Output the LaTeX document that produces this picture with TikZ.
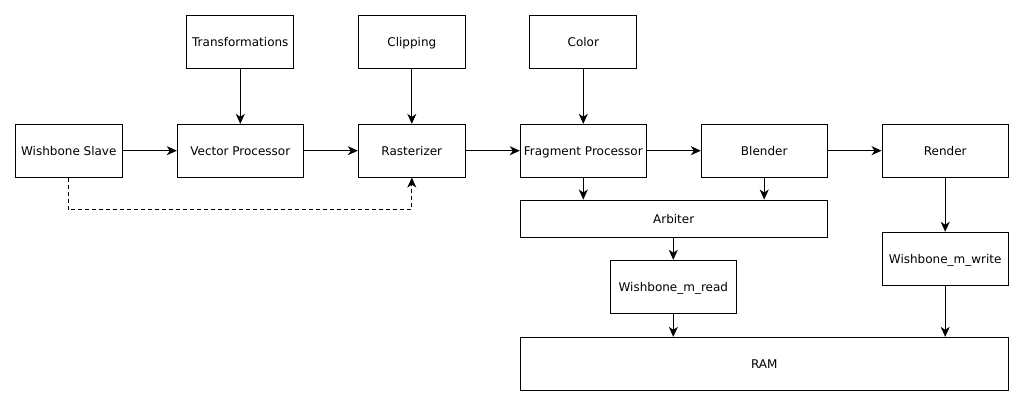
\documentclass[tikz,border=0pt]{standalone}
\usepackage{fontspec}
\setmainfont{DejaVu Sans}
\usetikzlibrary{arrows.meta}
\tikzset{
  box/.style={draw, line width=1pt, rectangle, inner sep=0pt, font=\fontsize{12pt}{14pt}\selectfont, text height=8.8pt, text depth=0pt, minimum height=52.7pt},
  conn/.style={line width=1pt, -{Stealth[length=10pt,width=9pt,inset=3pt]}},
  dconn/.style={conn, dash pattern=on 4pt off 3pt}
}
\begin{document}
\begin{tikzpicture}[x=1pt,y=-1pt]
\useasboundingbox (0,0) rectangle (1023,406);
\node[box, minimum width=107pt] (ws) at (68.8,150.7) {Wishbone Slave};
\node[box, minimum width=107.3pt, minimum height=53pt] (tr) at (240.3,41.8) {Transformations};
\node[box, minimum width=126pt] (vp) at (240.3,150.7) {Vector Processor};
\node[box, minimum width=107pt, minimum height=53pt] (cl) at (411.8,41.8) {Clipping};
\node[box, minimum width=107pt] (ra) at (411.8,150.7) {Rasterizer};
\node[box, minimum width=107pt, minimum height=53pt] (co) at (583.3,41.8) {Color};
\node[box, minimum width=126pt] (fp) at (583.3,150.7) {Fragment Processor};
\node[box, minimum width=125.7pt] (bl) at (764.2,150.7) {Blender};
\node[box, minimum width=126.3pt] (re) at (945.2,150.7) {Render};
\node[box, minimum width=306.7pt, minimum height=37.3pt] (ar) at (673.7,218.7) {Arbiter};
\node[box, minimum width=126pt, minimum height=53pt] (wr) at (673.3,286.8) {Wishbone\_m\_read};
\node[box, minimum width=126.3pt, minimum height=53pt] (ww) at (945.2,258.8) {Wishbone\_m\_write};
\node[box, minimum width=488pt] (ram) at (764.3,363.7) {RAM};
\draw[conn] (ws) -- (vp);
\draw[conn] (vp) -- (ra);
\draw[conn] (ra) -- (fp);
\draw[conn] (fp) -- (bl);
\draw[conn] (bl) -- (re);
\draw[conn] (tr.south) -- (tr.south |- vp.north);
\draw[conn] (cl.south) -- (cl.south |- ra.north);
\draw[conn] (co.south) -- (co.south |- fp.north);
\draw[conn] (fp.south) -- (fp.south |- ar.north);
\draw[conn] (bl.south) -- (bl.south |- ar.north);
\draw[conn] (ar.south -| wr.north) -- (wr.north);
\draw[conn] (re) -- (ww);
\draw[conn] (wr.south) -- (wr.south |- ram.north);
\draw[conn] (ww.south) -- (ww.south |- ram.north);
\coordinate (dk) at (68.8,210);
\draw[dconn] (ws.south) -- (dk) -| (ra.south);
\end{tikzpicture}
\end{document}
